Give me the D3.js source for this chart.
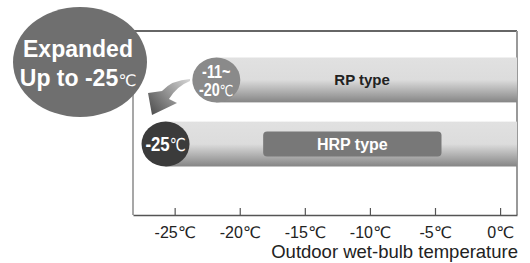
<!DOCTYPE html>
<html>
<head>
<meta charset="utf-8">
<script src="https://cdn.jsdelivr.net/npm/d3@7"></script>
<style>
  body { margin: 0; background: #fff; }
  text { font-family: "Liberation Sans", Arial, "DejaVu Sans", sans-serif; }
</style>
</head>
<body>
<script>
"use strict";

// data
const types = ["RP type", "HRP type"];
const barStart = [-21.8, -25.7];        // where each band begins (circle centre)
const circleLines = [["-11~", "-20"], ["-25"]];
const labelCenter = [-10.6, -11.4];
const hrpBox = [-18.2, -4.5];
const tickValues = [-25, -20, -15, -10, -5, 0];
const tickLabels = ["-25", "-20", "-15", "-10", "-5", "0"];
const unit = "\u2103";
const axisTitle = "Outdoor wet-bulb temperature";
const badgeLines = ["Expanded", "Up to -25"];

const width = 530, height = 263;
const xMin = -28.2, xMax = 1.3;

const svg = d3.select("body").append("svg")
    .attr("width", width)
    .attr("height", height);

const x = d3.scaleLinear().domain([xMin, xMax]).range([133, 517]);
const y = d3.scaleBand().domain(types).range([57.5, 166.5]).paddingInner(0.3);
const frameTop = 31, frameBottom = 215;

const defs = svg.append("defs");
const barGrad = defs.append("linearGradient")
    .attr("id", "barGrad").attr("x1", 0).attr("y1", 0).attr("x2", 0).attr("y2", 1);
barGrad.append("stop").attr("offset", 0).attr("stop-color", "#e1e1e1");
barGrad.append("stop").attr("offset", 0.5).attr("stop-color", "#dcdcdc");
barGrad.append("stop").attr("offset", 1).attr("stop-color", "#858585");

const arrowGrad = defs.append("linearGradient")
    .attr("id", "arrowGrad").attr("gradientUnits", "userSpaceOnUse")
    .attr("x1", 190).attr("y1", 80).attr("x2", 152).attr("y2", 112);
arrowGrad.append("stop").attr("offset", 0).attr("stop-color", "#d4d4d4");
arrowGrad.append("stop").attr("offset", 1).attr("stop-color", "#555");

// frame
svg.append("line").attr("x1", x(xMin)).attr("x2", x(xMax)).attr("y1", frameTop).attr("y2", frameTop)
    .attr("stroke", "#333").attr("stroke-width", 1.5);
svg.append("line").attr("x1", x(xMin)).attr("x2", x(xMin)).attr("y1", frameTop).attr("y2", frameBottom)
    .attr("stroke", "#8a8a8a").attr("stroke-width", 1.5);
svg.append("line").attr("x1", x(xMax)).attr("x2", x(xMax)).attr("y1", frameTop).attr("y2", frameBottom)
    .attr("stroke", "#999").attr("stroke-width", 2);

// bands
svg.selectAll("rect.band")
    .data(types)
    .enter().append("rect")
    .attr("class", "band")
    .attr("x", (d, i) => x(barStart[i]))
    .attr("y", d => y(d))
    .attr("width", (d, i) => x(xMax) - x(barStart[i]))
    .attr("height", y.bandwidth())
    .attr("fill", "url(#barGrad)");

// HRP label box
svg.append("rect")
    .attr("x", x(hrpBox[0])).attr("width", x(hrpBox[1]) - x(hrpBox[0]))
    .attr("y", y("HRP type") + 10).attr("height", 25).attr("rx", 4)
    .attr("fill", "#787878");

svg.append("text")
    .attr("x", x(labelCenter[0])).attr("y", y("RP type") + 27)
    .attr("text-anchor", "middle").attr("font-weight", "bold").attr("font-size", 15)
    .attr("fill", "#222").text(types[0]);
svg.append("text")
    .attr("x", (x(hrpBox[0]) + x(hrpBox[1])) / 2).attr("y", y("HRP type") + 28.5)
    .attr("text-anchor", "middle").attr("font-weight", "bold").attr("font-size", 16)
    .attr("fill", "#fff").text(types[1]);

// arrow
svg.append("path")
    .attr("d", "M190,79 Q172,80 162,91 L148,93 L152,115 L177,103 L169,99 Q177,86 190,81 Z")
    .attr("fill", "url(#arrowGrad)");

// circles at the start of each band
const circleFill = ["#8a8a8a", "#3b3b3b"];
types.forEach((t, i) => {
  const cx = x(barStart[i]), cy = y(t) + y.bandwidth() / 2;
  svg.append("ellipse").attr("cx", cx).attr("cy", cy)
      .attr("rx", 24).attr("ry", 22.5).attr("fill", circleFill[i]);
  const lines = circleLines[i];
  const g = svg.append("g").attr("transform", `translate(${cx},${cy}) scale(0.8,1)`);
  lines.forEach((s, j) => {
    const ty = lines.length === 1 ? 7 : (j === 0 ? -2 : 16);
    const tx = g.append("text").attr("x", 0).attr("y", ty)
        .attr("text-anchor", "middle").attr("fill", "#fff")
        .attr("font-size", lines.length === 1 ? 21 : 18)
        .attr("font-weight", "bold");
    tx.append("tspan").text(s);
    if (j === lines.length - 1) {
      tx.append("tspan").attr("font-weight", "normal").attr("font-size", "0.85em").text(unit);
    }
  });
});

// big badge
svg.append("ellipse").attr("cx", 80).attr("cy", 62).attr("rx", 67).attr("ry", 55)
    .attr("fill", "#6f6f6f");
const badge = svg.append("text").attr("text-anchor", "middle").attr("fill", "#fff")
    .attr("font-weight", "bold").attr("font-size", 23);
badge.append("tspan").attr("x", 78).attr("y", 57).text(badgeLines[0]);
const line2 = badge.append("tspan").attr("x", 78).attr("y", 86);
line2.append("tspan").text(badgeLines[1]);
line2.append("tspan").attr("font-weight", "normal").attr("font-size", 16).text(unit);

// axis
const axis = d3.axisBottom(x)
    .tickValues(tickValues)
    .tickSizeInner(-7)
    .tickSizeOuter(0)
    .tickFormat((d, i) => tickLabels[i] + unit);

const ax = svg.append("g").attr("transform", `translate(0,${frameBottom})`).call(axis);
ax.select(".domain").attr("stroke", "#555").attr("stroke-width", 1.5);
ax.selectAll(".tick line").attr("stroke", "#555").attr("stroke-width", 1.2);
ax.selectAll(".tick text")
    .attr("y", 23).attr("dy", 0)
    .attr("font-size", 16).attr("fill", "#222")
    .attr("font-family", "\"Liberation Sans\", Arial, sans-serif");

svg.append("text")
    .attr("x", 518).attr("y", 258)
    .attr("text-anchor", "end").attr("font-size", 18.5).attr("fill", "#222")
    .text(axisTitle);
</script>
</body>
</html>
